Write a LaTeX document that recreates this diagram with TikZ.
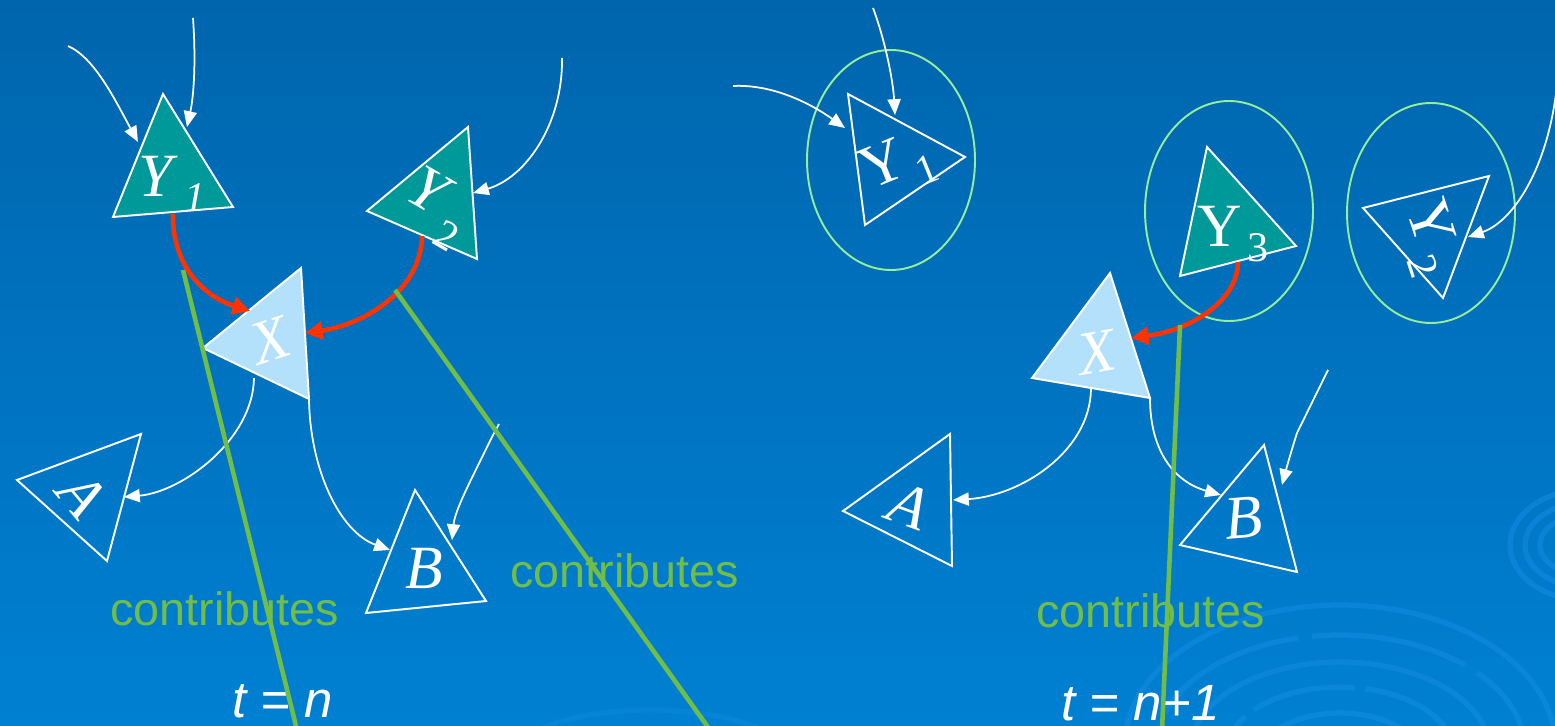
\documentclass[tikz,border=0pt]{standalone}
\usepackage{fontspec}
\setmainfont{Liberation Serif}
\newfontfamily\arialf{Liberation Sans}
\usetikzlibrary{arrows.meta}
\definecolor{bgtop}{RGB}{0,101,173}
\definecolor{bgbot}{RGB}{0,128,210}
\definecolor{tealfill}{RGB}{0,153,153}
\definecolor{xfill}{RGB}{179,224,250}
\definecolor{redc}{RGB}{255,51,0}
\definecolor{greenc}{RGB}{112,190,72}
\definecolor{ellc}{RGB}{150,238,150}
\definecolor{ripc}{RGB}{20,140,228}
\newcommand{\subx}[2][-0.25em]{\kern0.1em\raisebox{#1}{\fontsize{24}{24}\selectfont #2}}
\tikzset{
  tri/.style={draw=white, line width=1.1pt, line join=miter},
  lab/.style={text=white, inner sep=0pt, font=\fontsize{35}{35}\selectfont},
  wa/.style={draw=white, line width=1pt, -{Triangle[length=9pt,width=7.5pt]}},
  ra/.style={draw=redc, line width=2.6pt, -{Triangle[length=10pt,width=10pt]}},
  gl/.style={draw=greenc, line width=2.6pt},
  ctext/.style={text=greenc, inner sep=0pt, anchor=base west, font=\arialf\fontsize{26.6}{30}\selectfont},
  ttext/.style={text=white, inner sep=0pt, anchor=base west, font=\arialf\itshape\fontsize{29}{30}\selectfont},
  ell/.style={draw=ellc, line width=1.1pt},
  ripple/.style={draw=ripc, line width=3pt, opacity=0.55}
}
\begin{document}
\begin{tikzpicture}[x=0.02cm,y=-0.02cm]
\shade[top color=bgtop,bottom color=bgbot] (0,0) rectangle (1555,726);
\useasboundingbox (0,0) rectangle (1555,726);
% background ripples
\begin{scope}
\clip (0,0) rectangle (1555,726);
\draw[ripple] (1340,745) ellipse [x radius=215, y radius=140];
\draw[ripple, dash pattern=on 90pt off 8pt] (1340,750) ellipse [x radius=185, y radius=115];
\draw[ripple] (1340,752) ellipse [x radius=150, y radius=90];
\draw[ripple, dash pattern=on 60pt off 6pt] (1340,755) ellipse [x radius=115, y radius=68];
\draw[ripple] (1340,758) ellipse [x radius=80, y radius=45];
\draw[ripple] (1585,545) ellipse [x radius=75, y radius=55];
\draw[ripple] (1585,545) ellipse [x radius=60, y radius=42];
\draw[ripple] (1585,545) ellipse [x radius=45, y radius=30];
\draw[ripple, opacity=0.35] (650,760) ellipse [x radius=140, y radius=50];
\end{scope}

% ---------- left: t = n ----------
\coordinate (y1a) at (163,94);  \coordinate (y1b) at (113,217); \coordinate (y1c) at (233,207);
\coordinate (y2a) at (367,211); \coordinate (y2b) at (468,127); \coordinate (y2c) at (477,259);
\coordinate (xa) at (301,268);  \coordinate (xb) at (203,348);  \coordinate (xc) at (309,399);
\coordinate (aa) at (17,480);   \coordinate (ab) at (141,434);  \coordinate (ac) at (107,561);
\coordinate (ba) at (415,490);  \coordinate (bb) at (366,613);  \coordinate (bc) at (486,601);

\draw[tri, fill=tealfill] (y1a)--(y1b)--(y1c)--cycle;
\draw[tri, fill=tealfill] (y2a)--(y2b)--(y2c)--cycle;
\draw[tri, fill=xfill] (xa)--(xb)--(xc)--cycle;
\draw[tri] (aa)--(ab)--(ac)--cycle;
\draw[tri] (ba)--(bb)--(bc)--cycle;

\node[lab] (lY1) at (172,184) {\textit{Y}\subx{\textit{1}}};
\node[lab, rotate=-30] (lY2) at (436,208) {\textit{Y}\subx[-0.4em]{2}};
\node[lab, rotate=18] (lX) at (271,340) {\textit{X}};
\node[lab, rotate=-50] (lA) at (82,495) {\textit{A}};
\node[lab] (lB) at (424,568) {\textit{B}};

\coordinate (s1) at (68,46);   \coordinate (t1) at (138,142);
\coordinate (s2) at (193,18);  \coordinate (t2) at (187,127);
\coordinate (s3) at (562,58);  \coordinate (t3) at (473,193);
\coordinate (r1s) at (173,214); \coordinate (r1t) at (250,311);
\coordinate (r2s) at (422,236); \coordinate (r2t) at (305,333);
\coordinate (xas) at (254,378); \coordinate (xat) at (124,497);
\coordinate (xbs) at (309,399); \coordinate (xbt) at (390,550);
\coordinate (s4) at (499,424); \coordinate (m4) at (492,437); \coordinate (t4) at (452,540);

\draw[wa] (s1) .. controls (95,58) and (115,100) .. (t1);
\draw[wa] (s2) .. controls (196,60) and (194,95) .. (t2);
\draw[wa] (s3) .. controls (563,125) and (525,178) .. (t3);
\draw[ra] (r1s) .. controls (172,262) and (200,295) .. (r1t);
\draw[ra] (r2s) .. controls (421,292) and (362,325) .. (r2t);
\draw[wa] (xas) .. controls (253,440) and (182,492) .. (xat);
\draw[wa] (xbs) .. controls (310,470) and (340,532) .. (xbt);
\draw[wa] (s4) -- (m4) .. controls (470,482) and (455,510) .. (t4);

\node[ctext] (c1) at (110,625) {contributes};
\node[ctext] (c2) at (510,587) {contributes};
\node[ttext] (tn) at (232,717) {t = n};

\coordinate (g1s) at (183,270); \coordinate (g1e) at (297,730);
\coordinate (g2s) at (395,290); \coordinate (g2e) at (710,730);
\draw[gl] (g1s) -- (g1e);
\draw[gl] (g2s) -- (g2e);

% ---------- right: t = n+1 ----------
\draw[ell] (891,160) ellipse [x radius=84, y radius=110];
\draw[ell] (1229,211) ellipse [x radius=84, y radius=110];
\draw[ell] (1431,213) ellipse [x radius=84, y radius=110];

\coordinate (p1a) at (848,94);   \coordinate (p1b) at (965,157);  \coordinate (p1c) at (865,225);
\coordinate (p3a) at (1207,147); \coordinate (p3b) at (1296,246); \coordinate (p3c) at (1180,276);
\coordinate (p2a) at (1363,208); \coordinate (p2b) at (1489,176); \coordinate (p2c) at (1443,298);
\coordinate (qxa) at (1110,273); \coordinate (qxb) at (1032,378); \coordinate (qxc) at (1150,398);
\coordinate (qaa) at (843,511);  \coordinate (qab) at (950,434);  \coordinate (qac) at (952,566);
\coordinate (qba) at (1264,445); \coordinate (qbb) at (1180,545); \coordinate (qbc) at (1297,572);

\draw[tri] (p1a)--(p1b)--(p1c)--cycle;
\draw[tri, fill=tealfill] (p3a)--(p3b)--(p3c)--cycle;
\draw[tri] (p2a)--(p2b)--(p2c)--cycle;
\draw[tri, fill=xfill] (qxa)--(qxb)--(qxc)--cycle;
\draw[tri] (qaa)--(qab)--(qac)--cycle;
\draw[tri] (qba)--(qbb)--(qbc)--cycle;

\node[lab, rotate=22] (rY1) at (898,166) {Υ\subx{1}};
\node[lab] (rY3) at (1233,234) {Υ\subx{3}};
\node[lab, rotate=-72] (rY2) at (1428,238) {Υ\subx{2}};
\node[lab, rotate=10] (rX) at (1097,352) {\textit{X}};
\node[lab, rotate=-20] (rA) at (909,506) {\textit{A}};
\node[lab, rotate=5] (rB) at (1243,518) {\textit{B}};

\coordinate (u1) at (733,86);   \coordinate (v1) at (845,128);
\coordinate (u2) at (873,8);    \coordinate (v2) at (895,115);
\coordinate (u3) at (1557,85);  \coordinate (v3) at (1468,237);
\coordinate (r3s) at (1238,262); \coordinate (r3t) at (1131,338);
\coordinate (qxas) at (1091,389); \coordinate (qxat) at (953,500);
\coordinate (qxbs) at (1150,398); \coordinate (qxbt) at (1221,495);
\coordinate (u4) at (1328,370); \coordinate (m5) at (1297,433); \coordinate (v4) at (1282,485);

\draw[wa] (u1) .. controls (772,84) and (810,103) .. (v1);
\draw[wa] (u2) .. controls (885,40) and (893,80) .. (v2);
\draw[wa] (u3) .. controls (1548,170) and (1512,222) .. (v3);
\draw[ra] (r3s) .. controls (1238,300) and (1192,330) .. (r3t);
\draw[wa] (qxas) .. controls (1090,452) and (1020,496) .. (qxat);
\draw[wa] (qxbs) .. controls (1150,452) and (1175,482) .. (qxbt);
\draw[wa] (u4) -- (m5) .. controls (1290,455) and (1286,470) .. (v4);

\node[ctext] (c3) at (1036,627) {contributes};
\node[ttext] (tn1) at (1061,720) {t = n+1};

\coordinate (g3s) at (1180,325); \coordinate (g3e) at (1162,730);
\draw[gl] (g3s) -- (g3e);
\end{tikzpicture}
\end{document}
